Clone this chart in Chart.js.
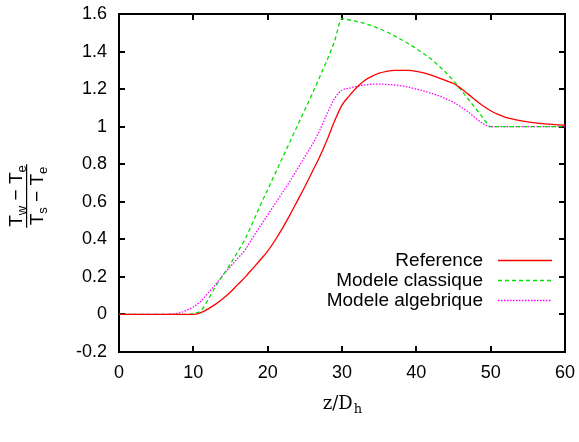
<!DOCTYPE html>
<html>
<head>
<meta charset="utf-8">
<script src="https://cdn.jsdelivr.net/npm/chart.js@4.4.1/dist/chart.umd.min.js"></script>
<style>
  html, body { margin: 0; padding: 0; background: #fff; }
  #wrap { width: 579px; height: 442px; }
</style>
</head>
<body>
<div id="wrap"><canvas id="chart"></canvas></div>
<script>
// z/Dh positions
const zValues = [0, 1, 2, 3, 4, 5, 6, 7, 8, 9,
  10, 11, 12, 13, 14, 15, 16, 17, 18, 19,
  20, 21, 22, 23, 24, 25, 26, 27, 28, 29,
  30, 31, 32, 33, 34, 35, 36, 37, 38, 39,
  40, 41, 42, 43, 44, 45, 46, 47, 48, 49,
  50, 51, 52, 53, 54, 55, 56, 57, 58, 59, 60];

// Reference
const referenceValues = [0, 0, 0, 0, 0, 0, 0, 0, 0, 0,
  0, 0.01, 0.03, 0.055, 0.085, 0.12, 0.16, 0.2, 0.245, 0.29,
  0.337, 0.395, 0.46, 0.53, 0.605, 0.68, 0.76, 0.84, 0.93, 1.03,
  1.115, 1.165, 1.21, 1.245, 1.268, 1.285, 1.295, 1.3, 1.3, 1.3,
  1.295, 1.287, 1.275, 1.26, 1.245, 1.23, 1.203, 1.172, 1.14, 1.11,
  1.085, 1.065, 1.05, 1.04, 1.032, 1.025, 1.02, 1.016, 1.013, 1.01, 1.008];

// Modele classique
const classiqueValues = [0, 0, 0, 0, 0, 0, 0, 0, 0, 0,
  0.005, 0.02, 0.08, 0.15, 0.21, 0.27, 0.335, 0.405, 0.49, 0.58,
  0.665, 0.75, 0.835, 0.92, 1.005, 1.09, 1.175, 1.265, 1.355, 1.455,
  1.575, 1.568, 1.56, 1.55, 1.537, 1.522, 1.505, 1.485, 1.463, 1.44,
  1.415, 1.388, 1.36, 1.325, 1.287, 1.245, 1.196, 1.146, 1.096, 1.046,
  1, 1, 1, 1, 1, 1, 1, 1, 1, 1, 1];

// Modele algebrique
const algebriqueValues = [0, 0, 0, 0, 0, 0, 0, 0.002, 0.007, 0.02,
  0.04, 0.07, 0.115, 0.16, 0.21, 0.255, 0.3, 0.345, 0.41, 0.47,
  0.53, 0.59, 0.65, 0.71, 0.775, 0.84, 0.905, 0.98, 1.07, 1.15,
  1.195, 1.205, 1.215, 1.222, 1.226, 1.227, 1.225, 1.222, 1.217, 1.21,
  1.2, 1.19, 1.178, 1.165, 1.148, 1.13, 1.105, 1.078, 1.045, 1.015,
  1, 1, 1, 1, 1, 1, 1, 1, 1, 1, 1];

const seriesLabels = ['Reference', 'Modele classique', 'Modele algebrique'];

const xTicks = [0, 10, 20, 30, 40, 50, 60];
const yTicks = [-0.2, 0, 0.2, 0.4, 0.6, 0.8, 1, 1.2, 1.4, 1.6];

const sansFont = "'Liberation Sans', Arial, sans-serif";
const serifFont = "'DejaVu Serif', 'Liberation Serif', serif";

function toPoints(values) {
  return zValues.map((z, i) => ({ x: z, y: values[i] }));
}

// frame and inward ticks on all four sides, like gnuplot
const framePlugin = {
  id: 'frame',
  beforeDatasetsDraw(chart) {
    const { ctx, chartArea: a, scales } = chart;
    ctx.save();
    ctx.strokeStyle = '#000';
    ctx.lineWidth = 2;
    ctx.strokeRect(a.left, a.top, a.right - a.left, a.bottom - a.top);
    ctx.beginPath();
    xTicks.forEach(v => {
      const px = Math.round(scales.x.getPixelForValue(v));
      ctx.moveTo(px, a.bottom); ctx.lineTo(px, a.bottom - 6);
      ctx.moveTo(px, a.top); ctx.lineTo(px, a.top + 6);
    });
    yTicks.forEach(v => {
      const py = Math.round(scales.y.getPixelForValue(v));
      ctx.moveTo(a.left, py); ctx.lineTo(a.left + 6, py);
      ctx.moveTo(a.right, py); ctx.lineTo(a.right - 6, py);
    });
    ctx.stroke();
    ctx.restore();
  },
  afterDraw(chart) {
    const { ctx, chartArea: a } = chart;
    ctx.save();

    // legend inside the plot, text right aligned, sample line on the right
    const rowsY = [260, 280, 300];
    ctx.font = '19px ' + sansFont;
    ctx.textAlign = 'right';
    ctx.textBaseline = 'middle';
    chart.data.datasets.forEach((ds, i) => {
      ctx.fillStyle = '#000';
      ctx.fillText(ds.label, 483, rowsY[i] + 1);
      ctx.strokeStyle = ds.borderColor;
      ctx.lineWidth = ds.borderWidth;
      ctx.setLineDash(ds.borderDash || []);
      ctx.beginPath();
      ctx.moveTo(498, rowsY[i] + 0.5);
      ctx.lineTo(552, rowsY[i] + 0.5);
      ctx.stroke();
    });
    ctx.setLineDash([]);

    // x axis title z/D_h
    ctx.fillStyle = '#000';
    ctx.textBaseline = 'alphabetic';
    ctx.textAlign = 'left';
    ctx.font = '18px ' + serifFont;
    const mainPart = 'z/D';
    const wMain = ctx.measureText(mainPart).width;
    ctx.font = '13px ' + serifFont;
    const wSub = ctx.measureText('h').width;
    const startX = (a.left + a.right) / 2 - (wMain + wSub) / 2;
    ctx.font = '18px ' + serifFont;
    ctx.fillText(mainPart, startX, 409);
    ctx.font = '13px ' + serifFont;
    ctx.fillText('h', startX + wMain + 1, 413);

    // y axis title: (T_w - T_e) / (T_s - T_e), rotated
    ctx.translate(27, 196);
    ctx.rotate(-Math.PI / 2);
    const drawTerm = (parts, y) => {
      let total = 0;
      parts.forEach(p => {
        ctx.font = p.sub ? '13px ' + sansFont : '19px ' + sansFont;
        total += ctx.measureText(p.t).width;
      });
      let x = -total / 2;
      parts.forEach(p => {
        ctx.font = p.sub ? '13px ' + sansFont : '19px ' + sansFont;
        ctx.fillText(p.t, x, y + (p.sub ? 4 : 0));
        x += ctx.measureText(p.t).width;
      });
      return total;
    };
    const wNum = drawTerm([{ t: 'T' }, { t: 'w', sub: true }, { t: ' \u2212 ' }, { t: 'T' }, { t: 'e', sub: true }], -5);
    const wDen = drawTerm([{ t: 'T' }, { t: 's', sub: true }, { t: ' \u2212 ' }, { t: 'T' }, { t: 'e', sub: true }], 16);
    const wBar = Math.max(wNum, wDen) + 2;
    ctx.fillRect(-wBar / 2, -1, wBar, 1.2);

    ctx.restore();
  }
};

const ctx = document.getElementById('chart').getContext('2d');
new Chart(ctx, {
  type: 'line',
  data: {
    datasets: [{
      label: seriesLabels[0],
      data: toPoints(referenceValues),
      borderColor: '#ff0000',
      borderWidth: 1.3,
      pointRadius: 0,
      cubicInterpolationMode: 'monotone'
    }, {
      label: seriesLabels[1],
      data: toPoints(classiqueValues),
      borderColor: '#00e000',
      borderWidth: 1.3,
      borderDash: [4, 3],
      pointRadius: 0,
      cubicInterpolationMode: 'monotone'
    }, {
      label: seriesLabels[2],
      data: toPoints(algebriqueValues),
      borderColor: '#ff00ff',
      borderWidth: 1.3,
      borderDash: [1.5, 1.5],
      pointRadius: 0,
      cubicInterpolationMode: 'monotone'
    }]
  },
  options: {
    responsive: true,
    maintainAspectRatio: false,
    animation: false,
    layout: { padding: { left: 0, top: 14, right: 14, bottom: 0 } },
    plugins: {
      legend: { display: false },
      tooltip: { enabled: false }
    },
    scales: {
      x: {
        type: 'linear',
        min: 0,
        max: 60,
        afterFit(scale) {
          scale.height = 90;
          scale.paddingLeft = 0;
          scale.paddingRight = 0;
        },
        afterBuildTicks(scale) { scale.ticks = xTicks.map(v => ({ value: v })); },
        grid: { display: false, drawTicks: false },
        border: { display: false },
        ticks: {
          padding: 10,
          color: '#000',
          font: { family: sansFont, size: 18 },
          maxRotation: 0,
          callback: v => String(v)
        }
      },
      y: {
        type: 'linear',
        min: -0.2,
        max: 1.6,
        afterFit(scale) {
          scale.width = 119;
          scale.paddingTop = 0;
          scale.paddingBottom = 0;
        },
        afterBuildTicks(scale) { scale.ticks = yTicks.map(v => ({ value: v })); },
        grid: { display: false, drawTicks: false },
        border: { display: false },
        ticks: {
          padding: 12,
          color: '#000',
          font: { family: sansFont, size: 18 },
          callback: v => String(Number(v.toFixed(1)))
        }
      }
    }
  },
  plugins: [framePlugin]
});
</script>
</body>
</html>
